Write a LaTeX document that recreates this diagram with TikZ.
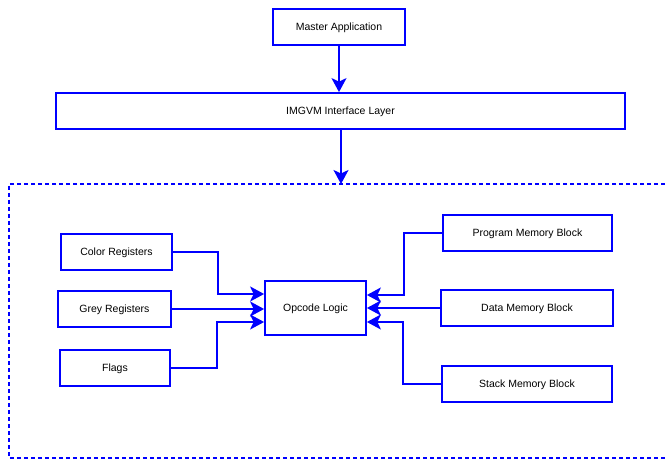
\documentclass[tikz,border=0pt]{standalone}
\usepackage{fontspec}
\setmainfont{Liberation Sans}
\usetikzlibrary{arrows.meta}
\definecolor{lineblue}{RGB}{0,0,255}
\begin{document}
\begin{tikzpicture}[
  blk/.style={draw=lineblue,line width=1.8pt,rectangle,inner sep=0pt,text height=7.6pt,text depth=0pt,font=\fontsize{10.5}{12}\selectfont,text=black},
  conn/.style={draw=lineblue,line width=1.8pt,-{Stealth[length=14pt,width=15pt,inset=3.5pt]}}]
\useasboundingbox (0pt,0pt) rectangle (665pt,-460pt);
\fill[white] (0pt,0pt) rectangle (665pt,-460pt);
\node[blk,minimum width=132pt,minimum height=36pt] (master) at (339pt,-27pt) {Master Application};
\node[blk,minimum width=569pt,minimum height=36pt] (iface) at (340.5pt,-111pt) {IMGVM Interface Layer};
\draw[lineblue,line width=1.8pt,dash pattern=on 4pt off 3pt] (700pt,-184pt) -- (9pt,-184pt) -- (9pt,-458pt) -- (700pt,-458pt);
\coordinate (boxtop) at (341pt,-184pt);
\node[blk,minimum width=111pt,minimum height=36pt] (color) at (116.5pt,-252pt) {Color Registers};
\node[blk,minimum width=113pt,minimum height=36pt] (grey) at (114.5pt,-309pt) {Grey Registers};
\node[blk,minimum width=110pt,minimum height=36pt] (flags) at (115pt,-368pt) {Flags};
\node[blk,minimum width=101pt,minimum height=54pt] (opcode) at (315.5pt,-308pt) {Opcode Logic};
\node[blk,minimum width=169pt,minimum height=36pt] (prog) at (527.5pt,-233pt) {Program Memory Block};
\node[blk,minimum width=172pt,minimum height=36pt] (data) at (527pt,-308pt) {Data Memory Block};
\node[blk,minimum width=170pt,minimum height=36pt] (stack) at (527pt,-384pt) {Stack Memory Block};
\coordinate (cbend) at (218pt,-252pt);
\coordinate (fbend) at (217pt,-368pt);
\coordinate (pbend) at (404pt,-233pt);
\coordinate (sbend) at (403pt,-384pt);
\draw[conn] (master.south) -- (iface.north -| master.south);
\draw[conn] (iface.south -| boxtop) -- (boxtop);
\draw[conn] (color.east) -- (cbend) |- ([yshift=14pt]opcode.west);
\draw[conn] (grey.east) -- (opcode.west |- grey.east);
\draw[conn] (flags.east) -- (fbend) |- ([yshift=-14pt]opcode.west);
\draw[conn] (prog.west) -- (pbend) |- ([yshift=13pt]opcode.east);
\draw[conn] (data.west) -- (opcode.east);
\draw[conn] (stack.west) -- (sbend) |- ([yshift=-14pt]opcode.east);
\end{tikzpicture}
\end{document}
